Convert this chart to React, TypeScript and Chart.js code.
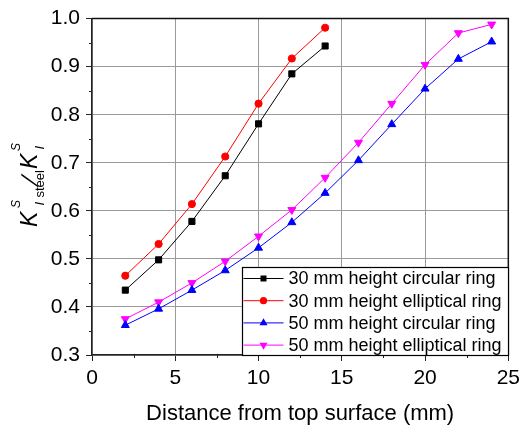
import { useEffect, useRef } from 'react';
import { Chart, registerables } from 'chart.js';

Chart.register(...registerables);

const FONT = '"Liberation Sans", Arial, Helvetica, sans-serif';

// Distance from the top surface (mm) for the two ring heights
const depths30 = [2, 4, 6, 8, 10, 12, 14];
const depths50 = [2, 4, 6, 8, 10, 12, 14, 16, 18, 20, 22, 24];

// Normalised stress intensity factor K_I steel / K_I
const circular30 = [0.435, 0.498, 0.578, 0.673, 0.781, 0.885, 0.943];
const elliptical30 = [0.465, 0.531, 0.614, 0.713, 0.823, 0.917, 0.981];
const circular50 = [0.362, 0.396, 0.435, 0.476, 0.523, 0.576, 0.637, 0.705, 0.78, 0.854, 0.916, 0.952];
const elliptical50 = [0.375, 0.41, 0.45, 0.495, 0.547, 0.602, 0.669, 0.742, 0.823, 0.904, 0.97, 0.988];

const seriesNames = [
  '30 mm height circular ring',
  '30 mm height elliptical ring',
  '50 mm height circular ring',
  '50 mm height elliptical ring',
];
const seriesColors = ['#000000', '#ff0000', '#0000ff', '#ff00ff'];
const seriesMarkers = ['square', 'circle', 'triangleUp', 'triangleDown'];

const xRange = [0, 25];
const xStep = 5;
const yRange = [0.3, 1.0];
const yStep = 0.1;
const xMinorTicks = [2.5, 7.5, 12.5, 17.5, 22.5];
const yMinorTicks = [0.35, 0.45, 0.55, 0.65, 0.75, 0.85, 0.95];
const xTitle = 'Distance from top surface (mm)';

const toPoints = (xs: number[], ys: number[]) => xs.map((x, i) => ({ x, y: ys[i] }));

function drawMarker(ctx: CanvasRenderingContext2D, kind: string, x: number, y: number, color: string) {
  ctx.save();
  ctx.fillStyle = color;
  ctx.beginPath();
  if (kind === 'square') {
    ctx.rect(x - 3, y - 3, 6, 6);
  } else if (kind === 'circle') {
    ctx.arc(x, y, 3.6, 0, Math.PI * 2);
  } else if (kind === 'triangleUp') {
    ctx.moveTo(x, y - 4.6);
    ctx.lineTo(x + 4, y + 2.3);
    ctx.lineTo(x - 4, y + 2.3);
    ctx.closePath();
  } else {
    ctx.moveTo(x, y + 4.6);
    ctx.lineTo(x + 4, y - 2.3);
    ctx.lineTo(x - 4, y - 2.3);
    ctx.closePath();
  }
  ctx.fill();
  ctx.restore();
}

function drawYTitle(ctx: CanvasRenderingContext2D, baseX: number, startY: number) {
  ctx.save();
  ctx.translate(baseX, startY);
  ctx.rotate(-Math.PI / 2);
  ctx.fillStyle = '#000';
  ctx.textBaseline = 'alphabetic';
  ctx.textAlign = 'left';
  const big = `italic 23px ${FONT}`;
  const small = `italic 12px ${FONT}`;
  const smallUp = `13px ${FONT}`;
  // first K with S superscript and "I steel" subscript
  ctx.font = big;
  ctx.fillText('K', 0, 0);
  ctx.font = small;
  ctx.fillText('S', 19, -17);
  ctx.font = `italic 13px ${FONT}`;
  ctx.fillText('I', 21.5, 6.5);
  ctx.font = smallUp;
  ctx.fillText('steel', 29.5, 6.5);
  // slash
  ctx.save();
  ctx.translate(40, 0);
  ctx.transform(1, 0, -0.45, 1, 0, 0);
  ctx.font = `23px ${FONT}`;
  ctx.fillText('/', 0, 1);
  ctx.restore();
  // second K
  ctx.font = big;
  ctx.fillText('K', 58, 0);
  ctx.font = small;
  ctx.fillText('S', 76, -17);
  ctx.font = `italic 13px ${FONT}`;
  ctx.fillText('I', 77.5, 6.5);
  ctx.restore();
}

const decorations = {
  id: 'decorations',
  afterDraw(chart: any) {
    const { ctx, chartArea: a, scales } = chart;
    const xs = scales.x;
    const ys = scales.y;
    ctx.save();

    // minor ticks
    ctx.strokeStyle = '#222';
    ctx.lineWidth = 1;
    ctx.beginPath();
    for (const v of yMinorTicks) {
      const py = Math.round(ys.getPixelForValue(v)) + 0.5;
      ctx.moveTo(a.left - 3, py);
      ctx.lineTo(a.left, py);
    }
    for (const v of xMinorTicks) {
      const px = Math.round(xs.getPixelForValue(v)) + 0.5;
      ctx.moveTo(px, a.bottom);
      ctx.lineTo(px, a.bottom + 3);
    }
    ctx.stroke();

    // top and right frame
    ctx.strokeStyle = '#111';
    ctx.lineWidth = 1.5;
    ctx.beginPath();
    ctx.moveTo(a.left, a.top);
    ctx.lineTo(a.right, a.top);
    ctx.lineTo(a.right, a.bottom);
    ctx.stroke();

    // legend
    const boxW = 266;
    const boxH = 88;
    const bx = Math.round(a.right - boxW) + 0.5;
    const by = Math.round(a.bottom - boxH) + 0.5;
    ctx.fillStyle = '#fff';
    ctx.fillRect(bx, by, boxW, boxH);
    ctx.strokeStyle = '#000';
    ctx.lineWidth = 1.2;
    ctx.strokeRect(bx, by, boxW, boxH);
    ctx.font = `18px ${FONT}`;
    ctx.textBaseline = 'middle';
    ctx.textAlign = 'left';
    seriesNames.forEach((name, i) => {
      const ry = by + 11 + i * 22.2;
      ctx.strokeStyle = seriesColors[i];
      ctx.lineWidth = 1;
      ctx.beginPath();
      ctx.moveTo(bx + 1, ry);
      ctx.lineTo(bx + 41, ry);
      ctx.stroke();
      drawMarker(ctx, seriesMarkers[i], bx + 21, ry, seriesColors[i]);
      ctx.fillStyle = '#000';
      ctx.fillText(name, bx + 46, ry + 1);
    });

    // axis titles
    ctx.fillStyle = '#000';
    ctx.font = `22px ${FONT}`;
    ctx.textAlign = 'center';
    ctx.textBaseline = 'alphabetic';
    ctx.fillText(xTitle, (a.left + a.right) / 2, 419.5);
    drawYTitle(ctx, 37, 227);

    ctx.restore();
  },
};

export default function App() {
  const canvasRef = useRef<HTMLCanvasElement | null>(null);

  useEffect(() => {
    if (!canvasRef.current) return;
    const tickFont = { family: FONT, size: 21 };
    const chart = new Chart(canvasRef.current, {
      type: 'line',
      data: {
        datasets: [
          {
            label: seriesNames[0],
            data: toPoints(depths30, circular30),
            borderColor: seriesColors[0],
            backgroundColor: seriesColors[0],
            pointStyle: 'rect',
            pointRadius: 4.3,
            borderWidth: 1,
          },
          {
            label: seriesNames[1],
            data: toPoints(depths30, elliptical30),
            borderColor: seriesColors[1],
            backgroundColor: seriesColors[1],
            pointStyle: 'circle',
            pointRadius: 3.6,
            borderWidth: 1,
          },
          {
            label: seriesNames[2],
            data: toPoints(depths50, circular50),
            borderColor: seriesColors[2],
            backgroundColor: seriesColors[2],
            pointStyle: 'triangle',
            pointRadius: 4.6,
            borderWidth: 1,
          },
          {
            label: seriesNames[3],
            data: toPoints(depths50, elliptical50),
            borderColor: seriesColors[3],
            backgroundColor: seriesColors[3],
            pointStyle: 'triangle',
            pointRotation: 180,
            pointRadius: 4.6,
            borderWidth: 1,
          },
        ],
      },
      options: {
        responsive: false,
        animation: false,
        layout: { padding: { top: 17, right: 12, left: 0, bottom: 0 } },
        plugins: { legend: { display: false }, tooltip: { enabled: false } },
        elements: { line: { tension: 0 }, point: { borderWidth: 0 } },
        scales: {
          x: {
            type: 'linear',
            min: xRange[0],
            max: xRange[1],
            ticks: { stepSize: xStep, font: tickFont, color: '#000', padding: 5, maxRotation: 0 },
            grid: { color: '#9a9a9a', lineWidth: 1, tickLength: 6, tickColor: '#222' },
            border: { color: '#222', width: 1.5 },
            afterFit: (scale: any) => {
              scale.height = 71;
            },
          },
          y: {
            type: 'linear',
            min: yRange[0],
            max: yRange[1],
            ticks: {
              stepSize: yStep,
              font: tickFont,
              color: '#000',
              padding: 6,
              callback: (v: any) => Number(v).toFixed(1),
            },
            grid: { color: '#9a9a9a', lineWidth: 1, tickLength: 6, tickColor: '#222' },
            border: { color: '#222', width: 1.5 },
            afterFit: (scale: any) => {
              scale.width = 92;
            },
          },
        },
      },
      plugins: [decorations],
    });
    return () => chart.destroy();
  }, []);

  return (
    <div style={{ position: 'fixed', left: 0, top: 0, width: 525, height: 426, background: '#fff' }}>
      <canvas ref={canvasRef} width={525} height={426} />
    </div>
  );
}
